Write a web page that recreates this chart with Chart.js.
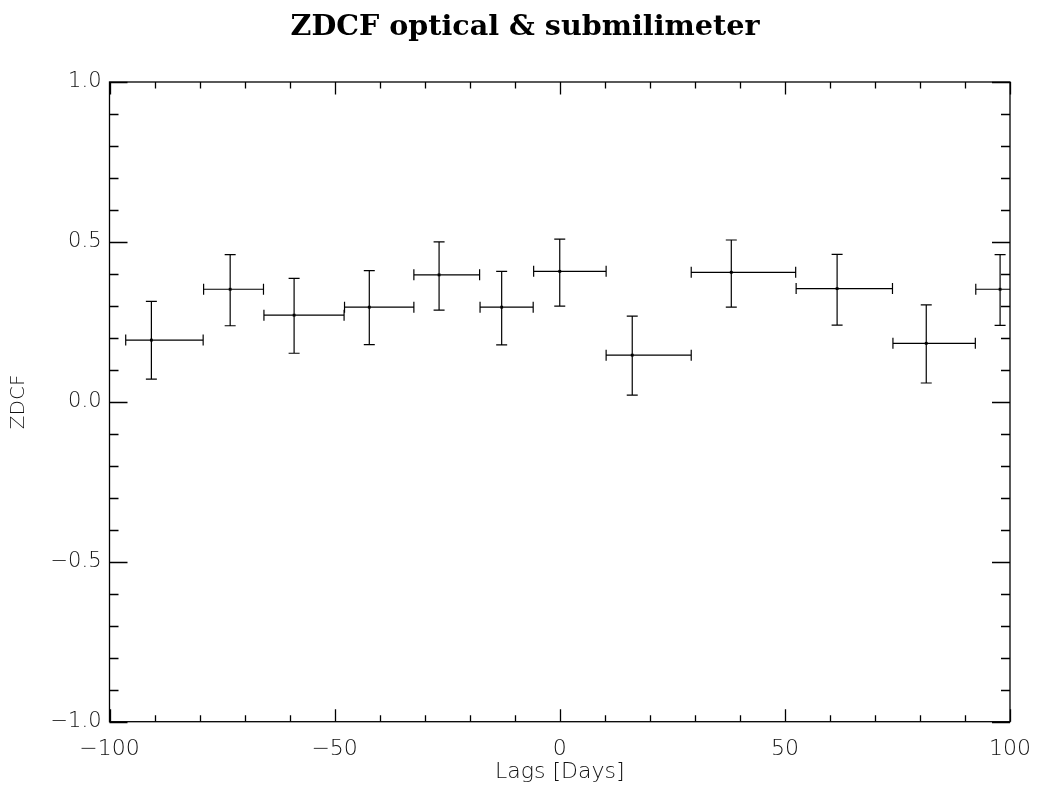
<!DOCTYPE html>
<html>
<head>
<meta charset="utf-8">
<script src="https://cdn.jsdelivr.net/npm/chart.js@4.4.1/dist/chart.umd.min.js"></script>
<style>
  html, body { margin: 0; padding: 0; background: #fff; }
  #wrap { width: 1037px; height: 796px; }
</style>
</head>
<body>
<div id="wrap"><canvas id="zdcf"></canvas></div>
<script>
'use strict'

// lag bin centres and their extent [days]
const lags   = [-90.7, -73.2, -59.0, -42.3, -26.8, -12.9, 0.0, 16.1, 38.1, 61.6, 81.4, 97.8];
const lagLo  = [-96.4, -79.1, -65.7, -47.8, -32.4, -17.7, -5.8, 10.3, 29.2, 52.5, 74.0, 92.4];
const lagHi  = [-79.2, -65.8, -47.9, -32.4, -17.8, -5.9, 10.3, 29.2, 52.4, 73.9, 92.3, 103.0];
// correlation coefficient and its error interval
const zdcf   = [0.193, 0.352, 0.271, 0.296, 0.397, 0.296, 0.408, 0.146, 0.405, 0.354, 0.183, 0.352];
const zdcfLo = [0.071, 0.238, 0.152, 0.179, 0.287, 0.178, 0.299, 0.021, 0.296, 0.240, 0.059, 0.239];
const zdcfHi = [0.314, 0.460, 0.386, 0.410, 0.500, 0.408, 0.509, 0.268, 0.506, 0.461, 0.303, 0.460];

const xTicks = [-100, -50, 0, 50, 100];
const yTicks = [-1.0, -0.5, 0.0, 0.5, 1.0];
const xMinorStep = 10;
const yMinorStep = 0.1;

const titleText = 'ZDCF optical & submilimeter';

const sans = "'DejaVu Sans', sans-serif";
const fmt = (v, d) => (v < 0 ? '\u2212' : '') + Math.abs(v).toFixed(d);

// bold serif heading above the frame
const heading = {
	id: 'heading',
	afterDraw(chart) {
		const ctx = chart.ctx;
		ctx.save();
		ctx.fillStyle = '#000';
		ctx.font = "bold 28.6px 'DejaVu Serif', serif";
		ctx.textAlign = 'center';
		ctx.textBaseline = 'alphabetic';
		ctx.fillText(titleText, chart.width / 2 + 6.5, 35);
		ctx.restore();
	}
};

// cross-shaped error bars in both directions
const errorBars = {
	id: 'errorBars',
	afterDatasetsDraw(chart) {
		const ctx = chart.ctx;
		const x = chart.scales.x, y = chart.scales.y;
		const a = chart.chartArea;
		const cap = 5.5;
		ctx.save();
		ctx.beginPath();
		ctx.rect(a.left, a.top, a.right - a.left, a.bottom - a.top);
		ctx.clip();
		ctx.strokeStyle = '#000';
		ctx.lineWidth = 1.2;
		ctx.beginPath();
		lags.forEach((lag, i) => {
			const px = x.getPixelForValue(lag);
			const py = y.getPixelForValue(zdcf[i]);
			const x0 = x.getPixelForValue(lagLo[i]);
			const x1 = x.getPixelForValue(lagHi[i]);
			const y0 = y.getPixelForValue(zdcfLo[i]);
			const y1 = y.getPixelForValue(zdcfHi[i]);
			ctx.moveTo(x0, py); ctx.lineTo(x1, py);
			ctx.moveTo(x0, py - cap); ctx.lineTo(x0, py + cap);
			ctx.moveTo(x1, py - cap); ctx.lineTo(x1, py + cap);
			ctx.moveTo(px, y0); ctx.lineTo(px, y1);
			ctx.moveTo(px - cap, y0); ctx.lineTo(px + cap, y0);
			ctx.moveTo(px - cap, y1); ctx.lineTo(px + cap, y1);
		});
		ctx.stroke();
		ctx.restore();
	}
};

// closed frame with inward major/minor ticks on all four sides
const frame = {
	id: 'frame',
	afterDraw(chart) {
		const ctx = chart.ctx;
		const x = chart.scales.x, y = chart.scales.y;
		const a = chart.chartArea;
		ctx.save();
		ctx.strokeStyle = '#000';
		ctx.lineWidth = 1.3;
		ctx.strokeRect(a.left, a.top, a.right - a.left, a.bottom - a.top);
		ctx.beginPath();
		for (let k = 0; k <= 20; k++) {
			const v = x.min + k * xMinorStep;
			const len = k % 5 === 0 ? 12.5 : 6.5;
			const px = Math.round(x.getPixelForValue(v)) + 0.5;
			ctx.moveTo(px, a.bottom); ctx.lineTo(px, a.bottom - len);
			ctx.moveTo(px, a.top); ctx.lineTo(px, a.top + len);
		}
		for (let k = 0; k <= 20; k++) {
			const v = y.min + k * yMinorStep;
			const len = k % 5 === 0 ? 18 : 9;
			const py = Math.round(y.getPixelForValue(v)) + 0.5;
			ctx.moveTo(a.left, py); ctx.lineTo(a.left + len, py);
			ctx.moveTo(a.right, py); ctx.lineTo(a.right - len, py);
		}
		ctx.stroke();
		ctx.restore();
	}
};

new Chart(document.getElementById('zdcf'), {
	type: 'scatter',
	data: {
		datasets: [{
			data: lags.map((lag, i) => ({ x: lag, y: zdcf[i] })),
			backgroundColor: '#000',
			borderColor: '#000',
			pointStyle: 'rect',
			pointRadius: 2,
			borderWidth: 0,
			clip: false,
		}],
	},
	options: {
		responsive: true,
		maintainAspectRatio: false,
		animation: false,
		events: [],
		layout: { padding: { left: 0, right: 27, top: 82, bottom: 0 } },
		plugins: {
			legend: { display: false },
			tooltip: { enabled: false },
			title: { display: false },
		},
		scales: {
			x: {
				type: 'linear',
				min: -100,
				max: 100,
				afterBuildTicks: (s) => { s.ticks = xTicks.map((v) => ({ value: v })); },
				afterFit: (s) => { s.height = 74.3; s.paddingLeft = 0; s.paddingRight = 0; },
				grid: { display: false, drawTicks: false },
				border: { display: false },
				ticks: {
					color: '#111',
					font: { family: sans, size: 22, weight: 200 },
					padding: 14,
					maxRotation: 0,
					autoSkip: false,
					callback: (v) => fmt(v, 0),
				},
				title: {
					display: true,
					text: 'Lags [Days]',
					color: '#111',
					font: { family: sans, size: 22, weight: 200 },
					padding: { top: 0, bottom: 11 },
				},
			},
			y: {
				type: 'linear',
				min: -1,
				max: 1,
				afterBuildTicks: (s) => { s.ticks = yTicks.map((v) => ({ value: v })); },
				afterFit: (s) => { s.width = 109.5; s.paddingTop = 0; s.paddingBottom = 0; },
				grid: { display: false, drawTicks: false },
				border: { display: false },
				ticks: {
					color: '#111',
					font: { family: sans, size: 21, weight: 200 },
					padding: 8,
					autoSkip: false,
					callback: (v) => fmt(v, 1),
				},
				title: {
					display: true,
					text: 'ZDCF',
					color: '#111',
					font: { family: sans, size: 20, weight: 200 },
					padding: { top: 7, bottom: 0 },
				},
			},
		},
	},
	plugins: [errorBars, frame, heading],
});
</script>
</body>
</html>
